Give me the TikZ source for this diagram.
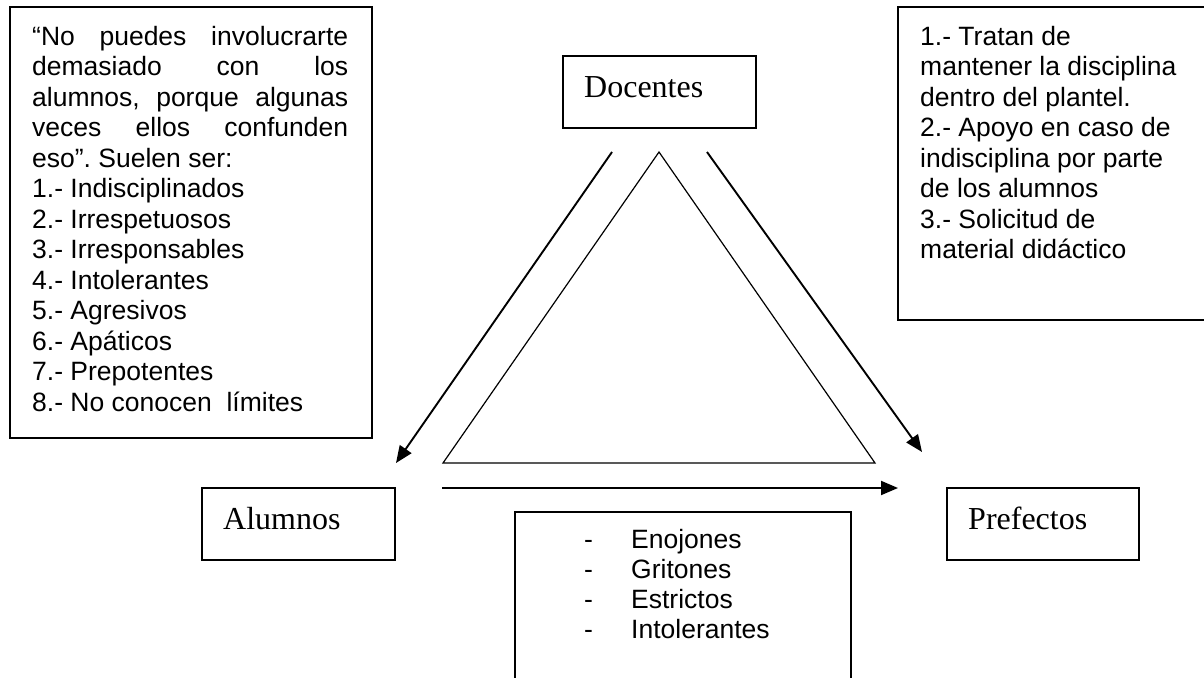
\documentclass[tikz,border=0pt]{standalone}
\usepackage{fontspec}
\setmainfont{Liberation Serif}
\newfontfamily\arialf{Liberation Sans}
\usetikzlibrary{arrows.meta}
\newcommand\nsp{\frenchspacing\spaceskip=0pt\relax\xspaceskip=0pt\relax}
\newcommand\jline[1]{\makebox[316pt][s]{\nsp #1}}
\begin{document}
\begin{tikzpicture}[x=1pt,y=-1pt,
  box/.style={draw,line width=1.5pt,inner sep=0pt},
  lbl/.style={inner sep=0pt,anchor=base west,font=\fontsize{32}{38}\selectfont},
  para/.style={inner sep=0pt,anchor=north west,align=left,font=\arialf\fontsize{26.5}{30.5}\selectfont},
  arr/.style={line width=1.9pt,-{Triangle[length=17pt,width=14pt]}},
]
\useasboundingbox (0,0) rectangle (1204,677);
\fill[white] (0,0) rectangle (1204,677);

% boxes
\node[box,minimum width=362pt,minimum height=431pt] (lbox) at (191,222.5) {};
\node[box,minimum width=317pt,minimum height=313pt] (rbox) at (1056.5,163.5) {};
\node[box,minimum width=193pt,minimum height=72pt] (doc) at (659.5,92) {};
\node[box,minimum width=193pt,minimum height=72pt] (alu) at (298.5,524) {};
\node[box,minimum width=192pt,minimum height=72pt] (pre) at (1043,524) {};
\node[box,minimum width=336pt,minimum height=188pt] (bbox) at (683,606) {};

% labels
\node[lbl] (tdoc) at (584,97) {Docentes};
\node[lbl] (talu) at (223,529) {Alumnos};
\node[lbl] (tpre) at (968,529) {Prefectos};

% left text
\node[para,text width=316pt] (ltext) at (32,20) {\nsp
\jline{\rule{0pt}{25pt}“No puedes involucrarte}\\
\jline{demasiado con los}\\
\jline{alumnos, porque algunas}\\
\jline{veces ellos confunden}\\
eso”. Suelen ser:\\
1.- Indisciplinados\\
2.- Irrespetuosos\\
3.- Irresponsables\\
4.- Intolerantes\\
5.- Agresivos\\
6.- Apáticos\\
7.- Prepotentes\\
8.- No conocen\ \ límites};

% right text
\node[para,text width=280pt] (rtext) at (920,20) {\nsp
\rule{0pt}{25pt}1.- Tratan de\\
mantener la disciplina\\
dentro del plantel.\\
2.- Apoyo en caso de\\
indisciplina por parte\\
de los alumnos\\
3.- Solicitud de\\
material didáctico};

% bottom text
\node[para,text width=260pt,font=\arialf\fontsize{26.5}{30}\selectfont] (btext) at (584,523) {\nsp
\rule{0pt}{25pt}\makebox[47pt][l]{-}Enojones\\
\makebox[47pt][l]{-}Gritones\\
\makebox[47pt][l]{-}Estrictos\\
\makebox[47pt][l]{-}Intolerantes};

% triangle
\draw[line width=1.2pt] (659,152) -- (875,463) -- (443,463) -- cycle;

% arrows
\coordinate (dl) at (612,152);
\coordinate (al) at (396,463);
\coordinate (dr) at (707,152);
\coordinate (pr) at (922,452);
\coordinate (ha) at (442,488);
\coordinate (hp) at (898,488);
\draw[arr] (dl) -- (al);
\draw[arr] (dr) -- (pr);
\draw[arr] (ha) -- (hp);
\end{tikzpicture}
\end{document}
